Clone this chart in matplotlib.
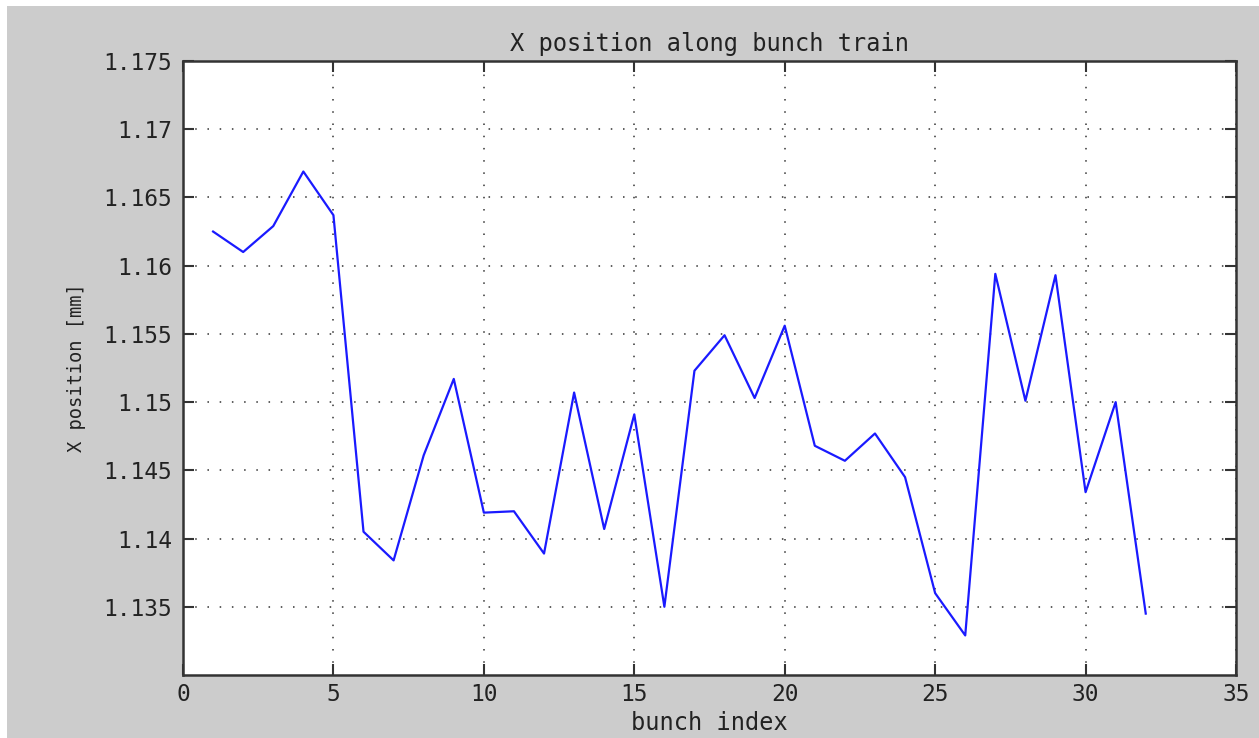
import matplotlib
matplotlib.use("Agg")
import matplotlib.pyplot as plt
from matplotlib.patches import Rectangle

# Bunch-by-bunch horizontal position readings
bunch_index = list(range(1, 33))
x_position_mm = [
    1.1625, 1.1610, 1.1629, 1.1669, 1.1637, 1.1405, 1.1384, 1.1461,
    1.1517, 1.1419, 1.1420, 1.1389, 1.1507, 1.1407, 1.1491, 1.1350,
    1.1523, 1.1549, 1.1503, 1.1556, 1.1468, 1.1457, 1.1477, 1.1445,
    1.1360, 1.1329, 1.1594, 1.1501, 1.1593, 1.1434, 1.1500, 1.1345,
]
x_ticks = [0, 5, 10, 15, 20, 25, 30, 35]
y_ticks = [1.135, 1.14, 1.145, 1.15, 1.155, 1.16, 1.165, 1.17, 1.175]
y_tick_labels = ["1.135", "1.14", "1.145", "1.15", "1.155", "1.16", "1.165", "1.17", "1.175"]

W, H, DPI = 1259, 738, 100
fig = plt.figure(figsize=(W / DPI, H / DPI), dpi=DPI, facecolor="white")
fig.patches.append(Rectangle((7 / W, 0), 1 - 7 / W, 1 - 6 / H,
                             transform=fig.transFigure, facecolor="#cccccc",
                             edgecolor="none", zorder=-10))

ax = fig.add_axes([183 / W, 1 - 675 / H, (1236 - 183) / W, (675 - 61) / H])
ax.set_facecolor("white")

ax.plot(bunch_index, x_position_mm, color="#1a1aff", linewidth=1.6, zorder=3)

ax.set_xlim(0, 35)
ax.set_ylim(1.13, 1.175)
ax.set_xticks(x_ticks)
ax.set_yticks(y_ticks)
ax.set_yticklabels(y_tick_labels)

font = "DejaVu Sans Mono"
ax.tick_params(direction="in", length=8, width=1.5, colors="#333333",
               top=True, right=True, labelsize=16.5, pad=8)
ax.tick_params(axis="x", pad=6)
for lbl in ax.get_xticklabels() + ax.get_yticklabels():
    lbl.set_fontfamily(font)
    lbl.set_color("#222222")

ax.grid(True, color="#333333", linestyle=(0, (1, 7)), linewidth=1.1)
for sp in ax.spines.values():
    sp.set_linewidth(1.8)
    sp.set_color("#333333")

ax.set_title("X position along bunch train", fontfamily=font, fontsize=17,
             color="#222222", pad=7)
ax.set_xlabel("bunch index", fontfamily=font, fontsize=17, color="#222222",
              labelpad=3)
ax.set_ylabel("X position [mm]", fontfamily=font, fontsize=13.5, color="#222222",
              labelpad=12)

fig.savefig("out.png", dpi=DPI, facecolor=fig.get_facecolor())
